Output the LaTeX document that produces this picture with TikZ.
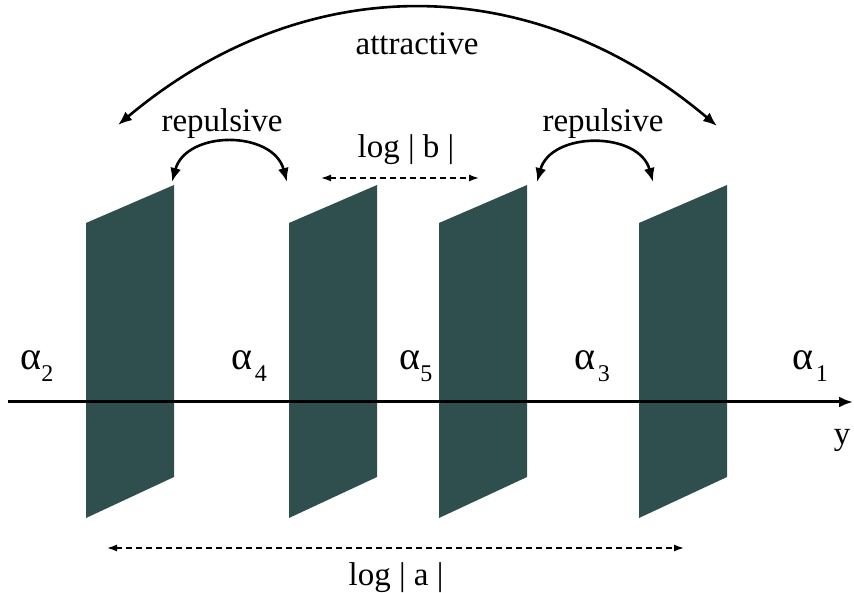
\documentclass[tikz,border=0pt]{standalone}
\usepackage{fontspec}
\setmainfont{LiberationSerif}[Extension=.ttf, UprightFont=*-Regular, BoldFont=*-Bold, ItalicFont=*-Italic, BoldItalicFont=*-BoldItalic]
\usetikzlibrary{arrows.meta}
\definecolor{platecol}{HTML}{2F4F4F}
\newcommand{\alab}[2]{α\hspace{#2}\raisebox{-0.3em}{\fontsize{24}{24}\selectfont #1}}
\begin{document}
\begin{tikzpicture}[x=1pt,y=-1pt,
  lbl/.style={font=\rmfamily\fontsize{33}{40}\selectfont, inner sep=0pt},
  alb/.style={font=\rmfamily\fontsize{40}{44}\selectfont, inner sep=0pt},
  plate/.style={fill=platecol, draw=none},
  bigarc/.style={line width=2.6pt, {Latex[length=14pt,width=11pt]}-{Latex[length=14pt,width=11pt]}},
  dimline/.style={line width=1.4pt, dash pattern=on 6pt off 4pt, {Latex[length=10pt,width=7pt]}-{Latex[length=10pt,width=7pt]}},
  axisline/.style={line width=3pt, -{Latex[length=14pt,width=11pt]}}
]
\useasboundingbox (0,0) rectangle (854,593);
% plates
\foreach \L in {86,289,439,639}{
  \fill[plate] (\L,223) -- (\L+88,185) -- (\L+88,477) -- (\L,518) -- cycle;
}
% axis
\coordinate (ax0) at (8,402);
\coordinate (ax1) at (853,402);
\draw[axisline] (ax0) -- (ax1);
\node[lbl] (ylab) at (842,440) {y};
% alpha labels
\node[alb] (a2) at (37,366) {\alab{2}{0pt}};
\node[alb] (a4) at (249,366) {\alab{4}{3pt}};
\node[alb] (a5) at (416,366) {\alab{5}{0pt}};
\node[alb] (a3) at (592,366) {\alab{3}{3pt}};
\node[alb] (a1) at (810,366) {\alab{1}{3pt}};
% attractive
\node[lbl] (attr) at (417,44) {attractive};
\coordinate (atL) at (118,125);
\coordinate (atR) at (717,126);
\draw[bigarc] (atL) .. controls (304,-31) and (531,-31) .. (atR);
% repulsive
\node[lbl] (repL) at (222,124) {repulsive};
\coordinate (rlA) at (172,182);
\coordinate (rlB) at (287,182);
\draw[bigarc] (rlA) .. controls (186,130) and (273,130) .. (rlB);
\node[lbl] (repR) at (603,124) {repulsive};
\coordinate (rrA) at (537,182);
\coordinate (rrB) at (653,182);
\draw[bigarc] (rrA) .. controls (551,131) and (639,131) .. (rrB);
% log |b|
\node[lbl] (logb) at (406,150) {log | b |};
\coordinate (bL) at (321,178);
\coordinate (bR) at (479,178);
\draw[dimline] (bL) -- (bR);
% log |a|
\node[lbl] (loga) at (396,578) {log | a |};
\coordinate (aL) at (107,548);
\coordinate (aR) at (684,548);
\draw[dimline] (aL) -- (aR);
\end{tikzpicture}
\end{document}
